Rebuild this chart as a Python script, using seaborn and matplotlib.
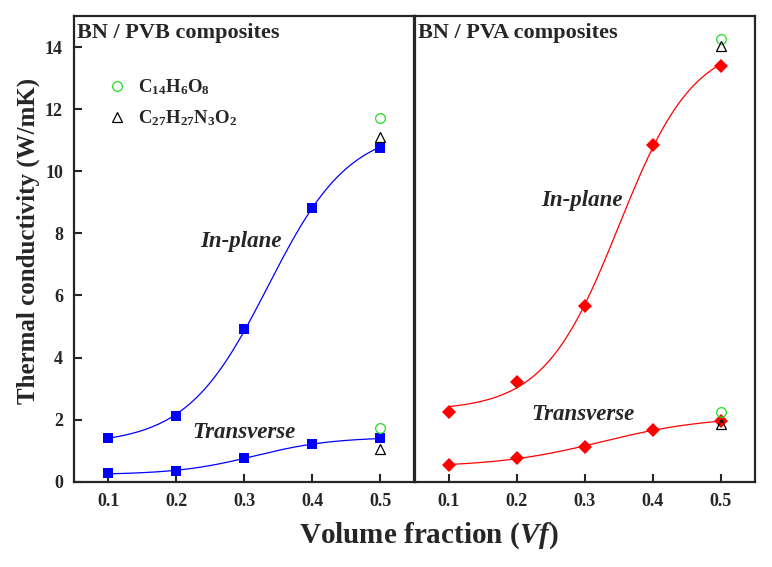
import numpy as np
import pandas as pd
import matplotlib
matplotlib.use("Agg")
import matplotlib.pyplot as plt
import seaborn as sb

vf = [0.1, 0.2, 0.3, 0.4, 0.5]
pvb_inplane = [1.41, 2.12, 4.92, 8.83, 10.76]
pvb_transverse = [0.27, 0.35, 0.76, 1.20, 1.40]
pva_inplane = [2.26, 3.20, 5.67, 10.86, 13.39]
pva_transverse = [0.54, 0.77, 1.13, 1.68, 1.94]

# reference points at Vf = 0.5 (in-plane, transverse)
ref_x = [0.5, 0.5]
pvb_c14 = [11.73, 1.72]
pvb_c27 = [11.10, 1.04]
pva_c14 = [14.27, 2.25]
pva_c27 = [14.05, 1.86]

yticks = [0, 2, 4, 6, 8, 10, 12, 14]
xticks = [0.1, 0.2, 0.3, 0.4, 0.5]

sb.set_theme(style="ticks")
plt.rcParams['font.family'] = ['Liberation Serif', 'DejaVu Serif']
plt.rcParams['font.weight'] = 'bold'
plt.rcParams['mathtext.fontset'] = 'custom'
plt.rcParams['mathtext.rm'] = 'Liberation Serif:bold'
plt.rcParams['mathtext.bf'] = 'Liberation Serif:bold'
plt.rcParams['mathtext.it'] = 'Liberation Serif:bold:italic'


def fit_curve(x, y):
    # logistic (sigmoidal) least-squares fit, brute force over centre/width
    x = np.asarray(x)
    y = np.asarray(y)
    best = None
    for x0 in np.linspace(0.0, 0.8, 161):
        for w in np.linspace(0.01, 0.4, 157):
            s = 1 / (1 + np.exp(-(x - x0) / w))
            M = np.column_stack([np.ones_like(s), s])
            coef = np.linalg.lstsq(M, y, rcond=None)[0]
            err = np.sum((M @ coef - y) ** 2)
            if best is None or err < best[0]:
                best = (err, x0, w, coef)
    _, x0, w, coef = best
    xs = np.linspace(x.min(), x.max(), 200)
    ys = coef[0] + coef[1] / (1 + np.exp(-(xs - x0) / w))
    return pd.DataFrame({'x': xs, 'y': ys})


fig = plt.figure(figsize=(7.72, 5.67), dpi=100)
ax1 = fig.add_axes([0.0959, 0.1504, 0.441, 0.8213])
ax2 = fig.add_axes([0.537, 0.1504, 0.441, 0.8213], sharey=ax1)

panels = [
    (ax1, pvb_inplane, pvb_transverse, pvb_c14, pvb_c27, 'blue', 's', 7, 'BN / PVB composites',
     [(0.295, 7.73, 'In-plane'), (0.30, 1.6, 'Transverse')]),
    (ax2, pva_inplane, pva_transverse, pva_c14, pva_c27, 'red', 'D', 7, 'BN / PVA composites',
     [(0.296, 9.05, 'In-plane'), (0.297, 2.18, 'Transverse')]),
]

for ax, inp, tra, c14, c27, col, mk, ms, title, notes in panels:
    for ys in (inp, tra):
        sb.lineplot(data=fit_curve(vf, ys), x='x', y='y', ax=ax, color=col, lw=0.9)
        ax.plot(vf, ys, ls='none', marker=mk, color=col, ms=ms, mew=0)
    ax.plot(ref_x, c14, ls='none', marker='o', mfc='none', mec='#22dd22', ms=7, mew=0.9,
            label=r'$\mathbf{C_{14}H_{6}O_{8}}$')
    ax.plot(ref_x, c27, ls='none', marker='^', mfc='none', mec='black', ms=7.5, mew=0.9,
            label=r'$\mathbf{C_{27}H_{27}N_{3}O_{2}}$')
    ax.text(0.01, 0.985, title, transform=ax.transAxes, ha='left', va='top',
            fontsize=16, fontweight='bold')
    for x, y, s in notes:
        ax.text(x, y, s, ha='center', va='center', fontsize=16.5, style='italic', fontweight='bold')
    ax.set_xlim(0.05, 0.55)
    ax.set_xticks(xticks)
    ax.set_xticklabels([f'{t:.1f}' for t in xticks], fontsize=13, fontweight='bold')
    ax.set_xlabel('')
    ax.set_ylabel('')
    for s in ax.spines.values():
        s.set_linewidth(1.6)
        s.set_visible(True)
    ax.tick_params(direction='in', length=6, width=1.5, top=False, right=False, pad=8)

ax1.set_ylim(0, 15)
ax1.set_yticks(yticks)
ax1.set_yticklabels([str(t) for t in yticks], fontsize=13, fontweight='bold')
ax2.tick_params(axis='y', left=False, labelleft=False)

h, l = ax1.get_legend_handles_labels()
ax1.legend(h[:2], l[:2], loc='upper left', bbox_to_anchor=(0.05, 0.905), frameon=False,
           fontsize=13.5, handletextpad=0.6, labelspacing=0.6, handlelength=1.0)

fig.text(0.037, 0.575, 'Thermal conductivity (W/mK)', rotation=90, ha='center', va='center',
         fontsize=18, fontweight='bold')
fig.text(0.555, 0.055, r'Volume fraction ($\mathit{Vf}$)', ha='center', va='center',
         fontsize=21, fontweight='bold')

fig.savefig('out.png', dpi=100)
